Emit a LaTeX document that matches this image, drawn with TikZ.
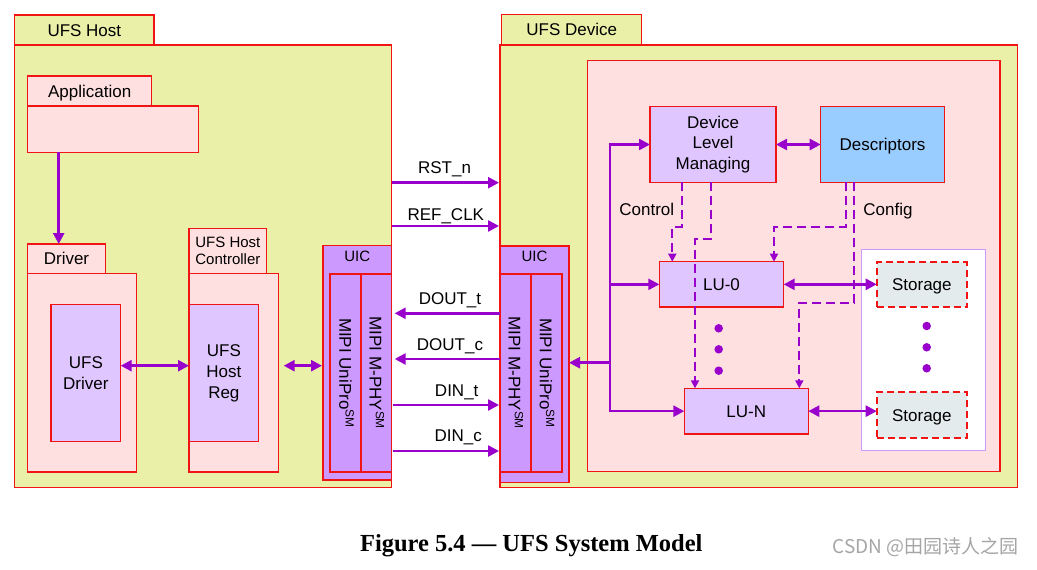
\documentclass[tikz,border=0pt]{standalone}
\usepackage{fontspec}
\setmainfont{Liberation Sans}
\newfontfamily\capfont{Liberation Serif}
\newfontfamily\cjkfont{Noto Sans CJK SC}
\usetikzlibrary{arrows.meta,calc}
\definecolor{yel}{RGB}{234,240,168}
\definecolor{redb}{RGB}{240,20,20}
\definecolor{pinkf}{RGB}{255,224,224}
\definecolor{lav}{RGB}{224,198,255}
\definecolor{uicf}{RGB}{204,153,255}
\definecolor{bluf}{RGB}{153,204,255}
\definecolor{purp}{RGB}{153,0,204}
\definecolor{stg}{RGB}{228,235,236}
\definecolor{wmgray}{RGB}{165,165,165}
\tikzset{
  box/.style={draw=redb, line width=1.5pt, inner sep=0pt, outer sep=0pt, anchor=north west},
  lbl/.style={font=\fontsize{17}{20.8}\selectfont},
  smallf/.style={font=\fontsize{15}{17.5}\selectfont},
  ctext/.style={text height=12.2pt, text depth=0pt},
  arr/.style={draw=purp, line width=2.5pt, -{Triangle[length=11pt,width=11pt]}},
  darr/.style={draw=purp, line width=2.5pt, {Triangle[length=11pt,width=11pt]}-{Triangle[length=11pt,width=11pt]}},
  dsh/.style={draw=purp, line width=1.8pt, dash pattern=on 9pt off 5pt, -{Triangle[length=8pt,width=8pt]}},
  dotn/.style={circle, fill=purp, inner sep=0pt, minimum size=8.5pt},
  stbox/.style={box, draw=redb, fill=stg, line width=1.8pt, dash pattern=on 7pt off 4pt},
}
\newcommand\bx[7]{\node[#2, minimum width={#5-#3}, minimum height={#6-#4}] (#1) at (#3,#4) {#7};}
\begin{document}
\begin{tikzpicture}[x=1pt,y=-1pt]
\useasboundingbox (0,0) rectangle (1037,570);
% ---------------- Host ----------------
\bx{hosttab}{box, fill=yel, lbl, ctext}{14.7}{15}{154}{45}{UFS Host}
\bx{host}{box, fill=yel}{14.7}{45}{391.7}{487.7}{}
\bx{apptab}{box, fill=pinkf, lbl, ctext}{27.7}{76}{151.7}{106}{Application}
\bx{appbody}{box, fill=pinkf}{27.7}{106}{198.3}{152.3}{}
\bx{drvtab}{box, fill=pinkf, lbl, ctext}{27.7}{244}{105.3}{273.7}{Driver}
\bx{drvbody}{box, fill=pinkf}{27.7}{273.7}{136.3}{472}{}
\bx{ufsdrv}{box, fill=lav, lbl, align=center}{51}{304.7}{120.7}{441.7}{UFS\\Driver}
\bx{hctab}{box, fill=pinkf, smallf, align=center}{189}{228.3}{266.7}{273.7}{UFS Host\\Controller}
\bx{hcbody}{box, fill=pinkf}{189}{273.7}{278.7}{472}{}
\bx{hreg}{box, fill=lav, lbl, align=center}{189}{304.7}{258.7}{441.7}{UFS\\Host\\Reg}
\bx{uich}{box, fill=uicf}{323}{245.3}{391.7}{480}{}
\node[smallf, anchor=base] (uichl) at (357.3,261) {UIC};
\bx{uichA}{box, fill=uicf}{330}{274}{361}{472}{}
\bx{uichB}{box, fill=uicf}{361}{274}{391.7}{472}{}
\node[lbl, rotate=-90] (tH1) at (346.5,373) {MIPI UniPro\textsuperscript{SM}};
\node[lbl, rotate=-90] (tH2) at (377,373) {MIPI M-PHY\textsuperscript{SM}};
% ---------------- Device ----------------
\bx{devtab}{box, fill=yel, lbl, ctext}{501.7}{14.7}{641.7}{45}{UFS Device}
\bx{dev}{box, fill=yel}{500}{45}{1017.7}{487.7}{}
\bx{devin}{box, fill=pinkf}{587.3}{60.7}{1000}{471.7}{}
\bx{uicd}{box, fill=uicf}{500}{246}{569}{482.7}{}
\node[smallf, anchor=base] (uicdl) at (534.5,261) {UIC};
\bx{uicdA}{box, fill=uicf}{500}{274}{531}{472}{}
\bx{uicdB}{box, fill=uicf}{531}{274}{562}{472}{}
\node[lbl, rotate=-90] (tD1) at (516,373) {MIPI M-PHY\textsuperscript{SM}};
\node[lbl, rotate=-90] (tD2) at (547,373) {MIPI UniPro\textsuperscript{SM}};
\bx{dlm}{box, fill=lav, lbl, align=center}{650}{106.7}{776}{182.3}{Device\\Level\\Managing}
\bx{desc}{box, fill=bluf, lbl, ctext}{820.7}{106.7}{944.3}{182.3}{Descriptors}
\bx{lu0}{box, fill=lav, lbl, ctext}{659.3}{261.7}{783.7}{307}{LU-0}
\bx{lun}{box, fill=lav, lbl, ctext}{684.3}{388.3}{808.3}{434}{LU-N}
\bx{starea}{box, draw=uicf, fill=white, line width=1.5pt}{861.7}{249.3}{985.7}{450.7}{}
\bx{st1}{stbox, lbl, ctext}{876.7}{262.3}{967}{307.3}{Storage}
\bx{st2}{stbox, lbl, ctext}{876.7}{392.3}{967}{437.7}{Storage}
\node[dotn] (d1) at (718.7,328.3) {};
\node[dotn] (d2) at (718.7,349.3) {};
\node[dotn] (d3) at (718.7,370.7) {};
\node[dotn] (s1) at (926.7,326) {};
\node[dotn] (s2) at (926.7,347.3) {};
\node[dotn] (s3) at (926.7,368.3) {};
\node[lbl, anchor=base] (lctl) at (646.8,215.7) {Control};
\node[lbl, anchor=base] (lcfg) at (888,215.7) {Config};
% ---------------- Host arrows ----------------
\draw[arr] ($(appbody.south west)+(31,0)$) -- ($(drvtab.north west)+(31,0)$);
\coordinate (rowH) at (0,365.7);
\draw[darr] (ufsdrv.east |- rowH) -- (hreg.west |- rowH);
\draw[darr] ($(hcbody.east |- rowH)+(5,0)$) -- ($(uich.west |- rowH)+(-1,0)$);
% ---------------- Signals ----------------
\coordinate (rowA) at (0,182.7);
\coordinate (rowB) at (0,226);
\coordinate (rowC) at (0,313.3);
\coordinate (rowD) at (0,359);
\coordinate (rowE) at (0,405);
\coordinate (rowF) at (0,451);
\draw[arr] (host.east |- rowA) -- ($(dev.west |- rowA)+(-1,0)$);
\draw[arr] (host.east |- rowB) -- ($(dev.west |- rowB)+(-1,0)$);
\draw[arr] (dev.west |- rowC) -- ($(host.east |- rowC)+(3,0)$);
\draw[arr] (dev.west |- rowD) -- ($(host.east |- rowD)+(3,0)$);
\draw[arr] ($(host.east |- rowE)+(1.5,0)$) -- ($(dev.west |- rowE)+(-1,0)$);
\draw[arr] ($(host.east |- rowF)+(1.5,0)$) -- ($(dev.west |- rowF)+(-1,0)$);
\node[lbl, anchor=base] (lrst) at (444.5,173.3) {RST\_n};
\node[lbl, anchor=base] (lclk) at (445.8,220.7) {REF\_CLK};
\node[lbl, anchor=base] (ldot) at (450,304.3) {DOUT\_t};
\node[lbl, anchor=base] (ldoc) at (450,350) {DOUT\_c};
\node[lbl, anchor=base] (ldit) at (456.7,396) {DIN\_t};
\node[lbl, anchor=base] (ldic) at (458.3,441.7) {DIN\_c};
% ---------------- Device arrows ----------------
\coordinate (tx) at (610,0);
\coordinate (rowU) at (0,362.7);
\draw[arr] (tx |- lu0.west) -- (tx |- dlm.west) -- (dlm.west);
\draw[arr] (tx |- dlm.west) -- (tx |- lun.west) -- (lun.west);
\draw[arr] (tx |- lu0.west) -- (lu0.west);
\draw[arr] (tx |- rowU) -- (uicd.east |- rowU);
\draw[darr] (dlm.east) -- (desc.west);
\draw[darr] (lu0.east) -- (lu0.east -| st1.west);
\draw[darr] (lun.east) -- (lun.east -| st2.west);
% dashed control / config
\draw[dsh] ($(dlm.south west)+(31.7,0)$) -- ++(0,44.4) -| ($(lu0.north west)+(13,0)$);
\draw[dsh] ($(dlm.south west)+(61,0)$) -- ++(0,56.7) -| ($(lun.north west)+(10.7,0)$);
\draw[dsh] ($(desc.south west)+(25,0)$) -- ++(0,44.4) -| ($(lu0.north west)+(114.7,0)$);
\draw[dsh] ($(desc.south west)+(33.6,0)$) -- ++(0,120.4) -| ($(lun.north west)+(115,0)$);
% ---------------- Caption ----------------
\node[font=\capfont\bfseries\fontsize{24.5}{28}\selectfont, anchor=base] (cap) at (531.3,551) {Figure 5.4 — UFS System Model};
\node[font=\cjkfont\fontsize{19}{22}\selectfont, text=wmgray, anchor=base east] (wm) at (1022,553.3) {CSDN @田园诗人之园};
\end{tikzpicture}
\end{document}
